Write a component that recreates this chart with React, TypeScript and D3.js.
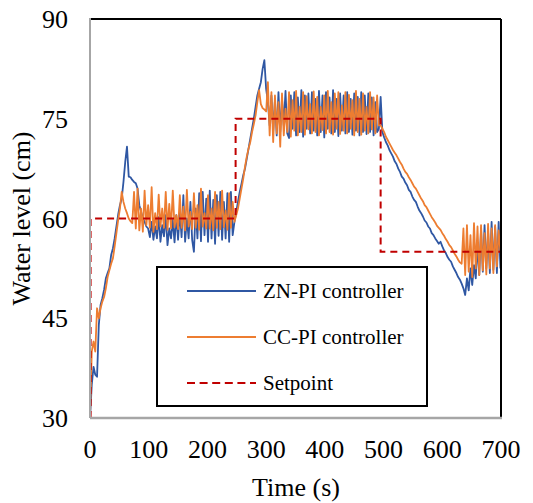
import React from "react";
import * as d3 from "d3";

const TIME_STEP = 3; // seconds between samples
const znPI = [
  // 0-72 s
  30, 35, 37.7, 36.5, 36.2, 44, 47, 48, 49.3, 51, 51.8, 52.5, 54.5, 55.5, 57, 58.8, 60.6, 62, 63, 65.5, 68.5, 70.8, 66.3, 66.2, 65.8,
  // 75-246 s
  65.5, 65.3, 64.5, 62, 61, 60, 59.5, 58.8, 58.5,
  57.2, 59.5, 56.8, 58.8, 57, 60.2, 56.5, 59, 57.3, 60.5,
  56, 58.5, 57, 59.8, 56.4, 60.5, 56.8, 61, 57.2, 63.5,
  56.5, 60, 57, 62.5, 56.8, 55, 61.5, 57, 63.8, 56.6,
  64, 57.5, 63, 56.5, 64.2, 57, 62.8, 56.2, 63.5, 57.4,
  64, 56.8, 62.5, 57, 63.8, 56.5, 64, 57.5, 59.5,
  // 249-303 s
  61, 62.5, 64, 65.2, 66.5, 67.5, 69, 70.5, 72, 73.5, 75, 76.8, 78.5, 79.5, 80.5, 82.5, 83.8, 79.5, 77.5,
  // 306-492 s
  74, 78.5, 73.2, 77.8, 72.5, 79, 73, 78, 74, 79.2,
  72.8, 72.1, 78.5, 73.5, 79, 72.5, 78.2, 73, 79.3, 72.3,
  78.5, 73.5, 78.8, 72.8, 79, 73.2, 78, 72.5, 79.2, 73,
  78.5, 72.2, 79, 73.5, 78.2, 72.8, 79.3, 73, 78, 72.4,
  78.8, 73.2, 78.5, 72.8, 79, 73, 78, 72.6, 78.8, 73.2,
  78.3, 72.5, 79, 73, 78.5, 72.7, 78.8, 73, 78.2, 72.5,
  77.5, 73, 73.5,
  // 495-633 s
  78.3, 73, 72.2, 71.5, 71, 70.3, 69.8, 69.3, 68.6, 68.2,
  67.5, 67, 66.3, 66, 65.4, 65, 64.3, 64, 63.3, 62.8,
  62.5, 61.8, 61.2, 60.8, 60.3, 59.7, 59.4, 58.8, 58.5, 57.8,
  57.5, 57, 56.6, 56.2, 56.5, 55.8, 55.2, 54.8, 54.2, 53.8,
  53.5, 52.8, 52.3, 51.8, 51.2, 50.8, 50.2,
  // 636-699 s
  49.5, 48.5, 51, 49.2, 52.5, 50, 53, 51, 56, 51.5, 58.5, 52, 59, 52.5, 58, 51.8, 59.5, 52.3, 58.8, 51.8, 59.5, 52.5,
];
const ccPI = [
  // 0-72 s
  30, 40, 41.5, 40, 46.5, 45, 46.5, 47.5, 48.2, 49.5, 51.2, 52.2, 53.2, 54, 55.8, 57.8, 59.8, 61.5, 64, 62.5, 61.5, 60.8, 60, 59.6, 59.3,
  // 75-246 s
  64, 58.5, 64.5, 58.2, 61.5, 58, 64.2, 59, 62, 58.6,
  64.7, 58, 60.8, 58.4, 63.6, 58.8, 61.5, 58.6, 64, 58.3,
  62.2, 58.5, 64.2, 58.7, 60.5, 58.4, 63.5, 58.6, 61.8, 58.2,
  64.3, 58.8, 61, 58.4, 63.8, 58.6, 62, 58.3, 64.5, 58.8,
  60.8, 58.5, 63.5, 58.5, 61.5, 58.2, 64, 58.6, 62.5, 58.4,
  64.2, 58.7, 61.2, 58.3, 63.8, 58.6, 62.5, 59.5,
  // 249-303 s
  60.5, 61.5, 63, 64.5, 66, 67.8, 69.3, 70.5, 71.5, 73, 74.2, 75.5, 77.5, 79.3, 77.2, 76.6, 76.4, 76.1, 80.5,
  // 306-492 s
  72.5, 79, 71.5, 78.5, 72.8, 77.5, 70.8, 78.8, 72.5, 76.5,
  73, 79, 72.3, 77.8, 73.2, 79.2, 72.5, 76.8, 73, 79,
  72.6, 78.4, 73.4, 77.2, 72.8, 79.1, 73, 78.3, 72.5, 76.8,
  73.3, 78.5, 72.8, 79.2, 73, 77.5, 72.6, 78.8, 73.5, 79,
  72.7, 77, 73.2, 79, 72.8, 78.6, 73.5, 77.8, 72.5, 79.2,
  73, 78, 72.6, 78.8, 73.2, 76.8, 72.8, 79, 73.4, 78.2,
  72.8, 78.5, 74,
  // 495-633 s
  74, 73.5, 73, 72.3, 71.8, 71.3, 70.8, 70.3, 69.9, 69.5,
  69, 68.5, 68.1, 67.5, 67, 66.7, 66.2, 65.8, 65.3, 64.8,
  64.5, 64, 63.5, 63, 62.6, 62, 61.7, 61.2, 60.7, 60.2,
  59.8, 59.4, 58.9, 58.6, 58.3, 57.8, 57.4, 56.9, 56.5, 56,
  55.7, 55.2, 54.7, 54.3, 53.8, 53.4, 53.2,
  // 636-699 s
  58.5, 51.5, 59, 52, 57.5, 51.2, 59.3, 52.5, 58.8, 51.5, 59, 52.2, 57.8, 51.6, 59.2, 52.5, 58.5, 51.8, 59, 52.8, 58.2, 55,
];
const setpointTime = [1, 1, 248, 248, 495, 495, 700];
const setpointLevel = [30, 60, 60, 75, 75, 55, 55];
const xTicks = [0, 100, 200, 300, 400, 500, 600, 700];
const yTicks = [30, 45, 60, 75, 90];
const legendLabels = ["ZN-PI controller", "CC-PI controller", "Setpoint"];

const W = 533, H = 503;
const L = 90, R = 501, T = 19, B = 418;
const FONT = "'Liberation Serif', 'Times New Roman', Times, 'DejaVu Serif', serif";
const BLUE = "#2F57A3";
const ORANGE = "#ED7D31";
const RED = "#C00000";

export default function App() {
  const x = d3.scaleLinear().domain([0, 700]).range([L, R]);
  const y = d3.scaleLinear().domain([30, 90]).range([B, T]);
  const line = d3.line<[number, number]>().x(d => x(d[0])).y(d => y(d[1]));
  const zn = znPI.map((v, i) => [i * TIME_STEP, v] as [number, number]);
  const cc = ccPI.map((v, i) => [i * TIME_STEP, v] as [number, number]);
  const sp = setpointTime.map((t, i) => [t, setpointLevel[i]] as [number, number]);

  const lgX = 157, lgY = 267, lgW = 270, lgH = 139;
  const rows = [291, 337, 383];
  const ts = { fontFamily: FONT };

  return (
    <svg width={W} height={H} style={{ position: "absolute", left: 0, top: 0, background: "#fff", fontFamily: FONT }}>
      <rect x={0} y={0} width={W} height={H} fill="#fff" />
      <path d={line(zn) || ""} fill="none" stroke={BLUE} strokeWidth={1.8} strokeLinejoin="round" />
      <path d={line(cc) || ""} fill="none" stroke={ORANGE} strokeWidth={1.8} strokeLinejoin="round" />
      <path d={line(sp) || ""} fill="none" stroke={RED} strokeWidth={2} strokeDasharray="7,5" />
      <line x1={L} x2={R} y1={T} y2={T} stroke="#000" strokeWidth={2} />
      <line x1={R} x2={R} y1={T} y2={B} stroke="#000" strokeWidth={2} />
      <line x1={L} x2={L} y1={T - 1} y2={B} stroke="#A6A6A6" strokeWidth={2} />
      <line x1={L} x2={R + 1} y1={B} y2={B} stroke="#A6A6A6" strokeWidth={2.5} />
      {yTicks.map(v => (
        <text key={v} x={68} y={y(v)} dy="0.35em" textAnchor="end" fontSize={26} style={ts}>{v}</text>
      ))}
      {xTicks.map(v => (
        <text key={v} x={x(v)} y={458} textAnchor="middle" fontSize={26} style={ts}>{v}</text>
      ))}
      <text x={296} y={496} textAnchor="middle" fontSize={26} style={ts}>Time (s)</text>
      <text transform={`translate(30,${(T + B) / 2}) rotate(-90)`} textAnchor="middle" fontSize={26} style={ts}>Water level (cm)</text>
      <rect x={lgX} y={lgY} width={lgW} height={lgH} fill="#fff" stroke="#000" strokeWidth={2} />
      {legendLabels.map((lab, i) => (
        <g key={lab}>
          <line x1={187} x2={256} y1={rows[i]} y2={rows[i]}
            stroke={[BLUE, ORANGE, RED][i]} strokeWidth={2}
            strokeDasharray={i === 2 ? "8,4.6" : undefined} />
          <text x={263} y={rows[i]} dy="0.33em" fontSize={21} style={ts}>{lab}</text>
        </g>
      ))}
    </svg>
  );
}
